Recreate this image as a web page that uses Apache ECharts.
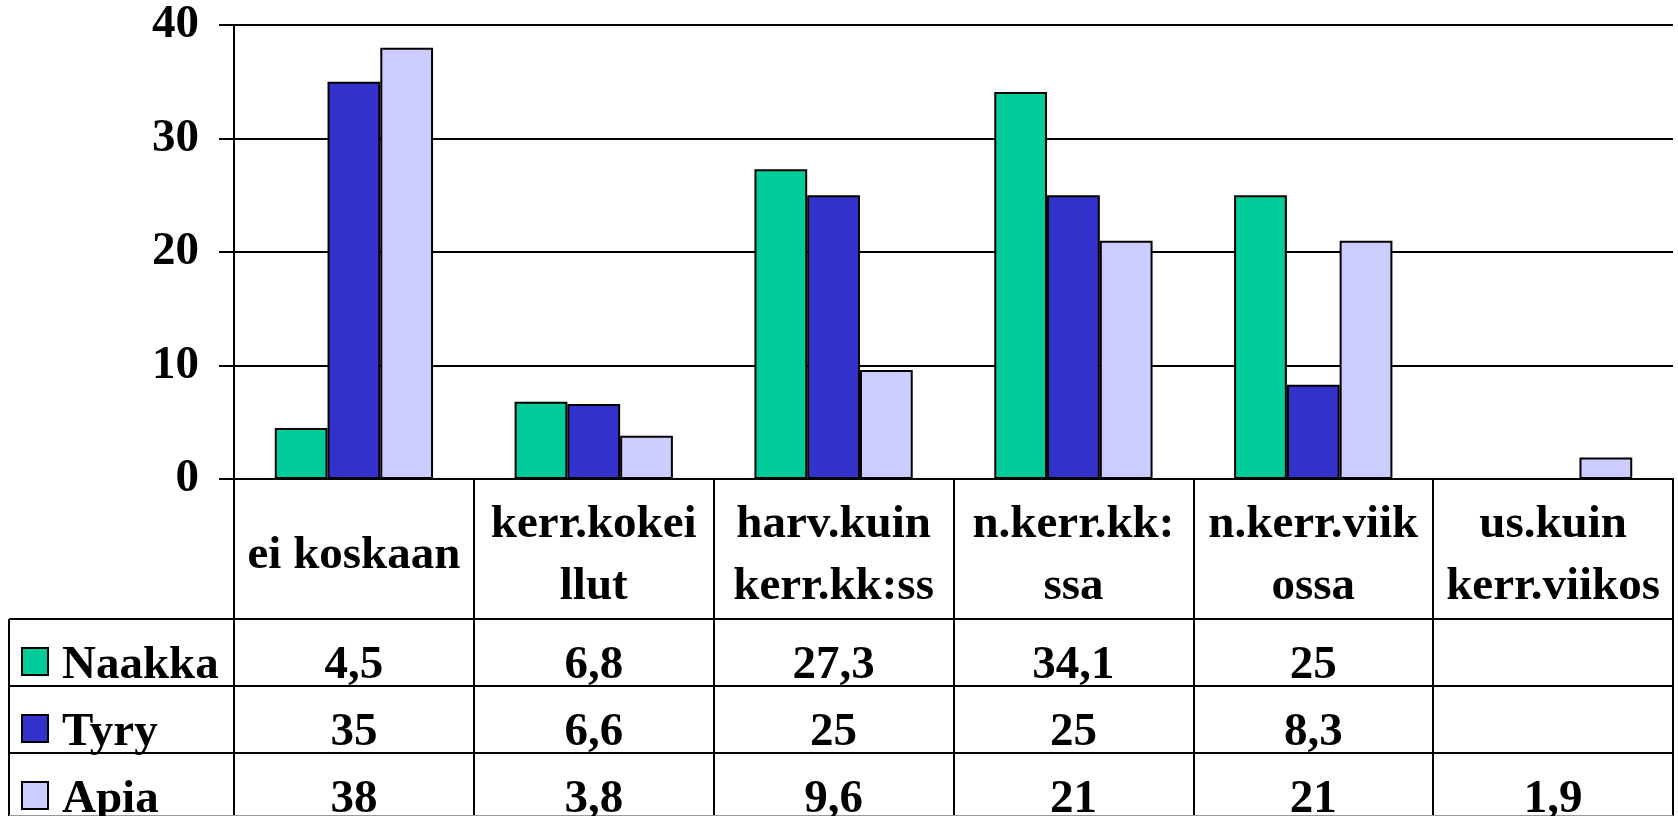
<!DOCTYPE html>
<html>
<head>
<meta charset="utf-8">
<script src="https://cdn.jsdelivr.net/npm/echarts@6/dist/echarts.min.js"></script>
<style>
html, body { margin: 0; padding: 0; background: #fff; }
#chart { width: 1678px; height: 816px; }
</style>
</head>
<body>
<div id="chart"></div>
<script>
// data
const categories = ['ei koskaan', 'kerr.kokei\nllut', 'harv.kuin\nkerr.kk:ss', 'n.kerr.kk:\nssa', 'n.kerr.viik\nossa', 'us.kuin\nkerr.viikos'];
const naakka = [4.5, 6.8, 27.3, 34.1, 25, null];
const tyry = [35, 6.6, 25, 25, 8.3, null];
const apia = [38, 3.8, 9.6, 21, 21, 1.9];
const seriesNames = ['Naakka', 'Tyry', 'Apia'];
const yMin = 0, yMax = 40, yStep = 10;

const colors = ['#00cc99', '#3333cc', '#ccccff'];
const font = '"Liberation Serif", "Times New Roman", serif';
const fs = 47;

// table layout
const tableLeft = 9;
const headerBottom = 619;
const rowH = 67;

let chart = echarts.init(document.getElementById('chart'));

let seriesData = [naakka, tyry, apia];

let option = {
    animation: false,
    backgroundColor: '#fff',
    grid: {
        left: 234,
        top: 25,
        width: 1439,
        height: 454
    },
    xAxis: {
        type: 'category',
        data: categories,
        axisLine: { show: true, lineStyle: { color: '#000', width: 2 } },
        axisTick: {
            show: true,
            length: 816 - 479,
            lineStyle: { color: '#000', width: 2 }
        },
        axisLabel: {
            interval: 0,
            margin: 77,
            verticalAlign: 'middle',
            fontFamily: font,
            fontSize: fs,
            fontWeight: 'bold',
            color: '#000',
            lineHeight: 62
        }
    },
    yAxis: {
        type: 'value',
        min: yMin,
        max: yMax,
        interval: yStep,
        axisLine: { show: true, lineStyle: { color: '#000', width: 2 } },
        axisTick: { show: true, length: 15, lineStyle: { color: '#000', width: 2 } },
        splitLine: { show: true, lineStyle: { color: '#000', width: 2 } },
        axisLabel: {
            margin: 35,
            padding: [6, 0, 0, 0],
            fontFamily: font,
            fontSize: fs,
            fontWeight: 'bold',
            color: '#000'
        }
    },
    series: seriesNames.map((name, k) => ({
        name: name,
        type: 'bar',
        data: seriesData[k],
        barGap: 0,
        barCategoryGap: '34%',
        itemStyle: {
            color: colors[k],
            borderColor: '#000',
            borderWidth: 2
        }
    }))
};

chart.setOption(option);

// data table under the axis
let fmt = v => (v === null || v === undefined) ? '' : String(v).replace('.', ',');
let graphics = [];
let right = 234 + 1439;
let lineStyle = { stroke: '#000', lineWidth: 2 };
for (let r = 0; r < 3; r++) {
    let y = headerBottom + r * rowH;
    graphics.push({ type: 'line', shape: { x1: tableLeft, y1: y, x2: right, y2: y }, style: lineStyle, z: 10 });
}
graphics.push({ type: 'line', shape: { x1: tableLeft, y1: headerBottom, x2: tableLeft, y2: 816 }, style: lineStyle, z: 10 });
graphics.push({ type: 'line', shape: { x1: tableLeft, y1: 815.5, x2: right, y2: 815.5 }, style: { stroke: '#999', lineWidth: 1 }, z: 10 });

seriesData.forEach((arr, r) => {
    let rowTop = headerBottom + r * rowH;
    // legend key + series name
    graphics.push({
        type: 'rect',
        shape: { x: 22, y: rowTop + 29, width: 26, height: 27 },
        style: { fill: colors[r], stroke: '#000', lineWidth: 2 },
        z: 10
    });
    graphics.push({
        type: 'text',
        x: 62,
        y: rowTop + 47,
        style: {
            text: seriesNames[r],
            fill: '#000',
            font: 'bold ' + fs + 'px ' + font,
            align: 'left',
            verticalAlign: 'middle'
        },
        z: 10
    });
    arr.forEach((v, i) => {
        let x = chart.convertToPixel({ xAxisIndex: 0 }, i);
        graphics.push({
            type: 'text',
            x: x,
            y: rowTop + 47,
            style: {
                text: fmt(v),
                fill: '#000',
                font: 'bold ' + fs + 'px ' + font,
                align: 'center',
                verticalAlign: 'middle'
            },
            z: 10
        });
    });
});

chart.setOption({ graphic: graphics });
</script>
</body>
</html>
